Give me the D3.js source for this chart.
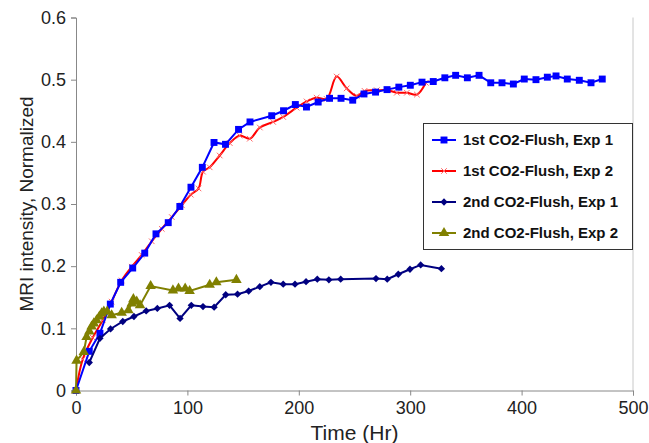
<!DOCTYPE html>
<html lang="en">
<head>
<meta charset="UTF-8">
<title>MRI intensity vs time</title>
<script src="https://cdnjs.cloudflare.com/ajax/libs/d3/7.8.5/d3.min.js"></script>
<style>
  body { margin: 0; background: #fff; }
  svg { display: block; font-family: "Liberation Sans", Arial, sans-serif; }
  .axis path, .axis line { stroke: #888; }
  .axis text { fill: #222; font-size: 18px; }
</style>
</head>
<body>
<div id="chart"></div>
<script>
// 1st CO2-Flush, Exp 1 (blue squares)
const exp1First = [
  [0, 0], [11.9, 0.063], [21.5, 0.092], [30.8, 0.139], [40.1, 0.174], [50.9, 0.197],
  [61.7, 0.221], [71.8, 0.252], [82.8, 0.270], [93.2, 0.296], [103.2, 0.327],
  [113.4, 0.359], [123.9, 0.399], [134.2, 0.396], [145.9, 0.420], [156.2, 0.432],
  [175.7, 0.442], [186.3, 0.450], [196.9, 0.460], [206.9, 0.456], [217.4, 0.464],
  [227.6, 0.470], [237.9, 0.470], [248.4, 0.467], [258.5, 0.477], [268.9, 0.480],
  [279.2, 0.484], [289.8, 0.488], [300.1, 0.491], [310.6, 0.496], [320.7, 0.497],
  [331.1, 0.503], [340.8, 0.507], [351.3, 0.503], [361.8, 0.507], [372.3, 0.495],
  [382.4, 0.495], [392.6, 0.493], [402.4, 0.501], [412.9, 0.500], [423.1, 0.504],
  [430.9, 0.506], [441.0, 0.501], [451.8, 0.499], [462.3, 0.495], [472.4, 0.501]
];

// 1st CO2-Flush, Exp 2 (red crosses, smoothed)
const exp2First = [
  [0, 0], [6, 0.050], [15, 0.085], [24, 0.113], [32, 0.143], [41, 0.177], [50, 0.199],
  [59, 0.218], [68, 0.240], [77, 0.260], [86, 0.279], [95, 0.298], [103, 0.315],
  [110, 0.325], [114, 0.352], [120, 0.359], [129, 0.378], [138, 0.398], [147, 0.410],
  [156, 0.405], [165, 0.423], [177, 0.432], [186, 0.440], [198, 0.455], [207, 0.465],
  [216, 0.471], [225, 0.469], [234, 0.505], [243, 0.486], [252, 0.474], [259, 0.482],
  [270, 0.483], [280, 0.483], [288, 0.479], [297, 0.479], [306, 0.476], [314, 0.495]
];

// 2nd CO2-Flush, Exp 1 (navy diamonds)
const exp1Second = [
  [11.9, 0.045], [21.5, 0.084], [31, 0.099], [42, 0.111], [52, 0.119], [63, 0.128],
  [73, 0.132], [84, 0.137], [93.4, 0.116], [103.5, 0.137], [114, 0.135], [124, 0.134],
  [134.4, 0.154], [145, 0.155], [155, 0.160], [165, 0.167], [175, 0.174], [186, 0.171],
  [196.6, 0.171], [206.5, 0.175], [216.6, 0.179], [227, 0.178], [237.6, 0.179],
  [269.3, 0.180], [279.4, 0.179], [289.3, 0.187], [299.8, 0.195], [309.4, 0.202],
  [328, 0.196]
];

// 2nd CO2-Flush, Exp 2 (olive triangles)
const exp2Second = [
  [0, 0], [0.5, 0.048], [7, 0.062], [9.5, 0.086], [12, 0.095], [14, 0.103], [16, 0.108],
  [18.5, 0.113], [21, 0.119], [23, 0.124], [25, 0.127], [28, 0.127], [32, 0.121],
  [41, 0.125], [47, 0.129], [50, 0.140], [51.5, 0.147], [54.5, 0.143], [57.5, 0.137],
  [67, 0.168], [87, 0.161], [92, 0.164], [98, 0.164], [102, 0.160], [120, 0.170],
  [126, 0.174], [144, 0.178]
];

const xTicks = [0, 100, 200, 300, 400, 500];
const yTicks = [0, 0.1, 0.2, 0.3, 0.4, 0.5, 0.6];
const seriesNames = ["1st CO2-Flush, Exp 1", "1st CO2-Flush, Exp 2", "2nd CO2-Flush, Exp 1", "2nd CO2-Flush, Exp 2"];

const W = 649, H = 443;
const x = d3.scaleLinear().domain([0, 500]).range([76, 633]);
const y = d3.scaleLinear().domain([0, 0.6]).range([390.5, 17.5]);

const svg = d3.select("#chart").append("svg").attr("width", W).attr("height", H);

// right border of plot area
svg.append("line")
  .attr("x1", x(500)).attr("x2", x(500))
  .attr("y1", y(0.6)).attr("y2", y(0))
  .attr("stroke", "#c8c8c8");

svg.append("g").attr("class", "axis")
  .attr("transform", `translate(0,${y(0)})`)
  .call(d3.axisBottom(x).tickValues(xTicks).tickSize(5).tickPadding(6).tickFormat(d3.format("d")));

svg.append("g").attr("class", "axis")
  .attr("transform", `translate(${x(0)},0)`)
  .call(d3.axisLeft(y).tickValues(yTicks).tickSize(5).tickPadding(5).tickFormat(d => d === 0 ? "0" : d3.format(".1f")(d)));

svg.append("text")
  .attr("x", (x(0) + x(500)) / 2).attr("y", 440)
  .attr("text-anchor", "middle").attr("font-size", 21).attr("fill", "#222")
  .text("Time (Hr)");

svg.append("text")
  .attr("transform", `translate(33,${(y(0) + y(0.6)) / 2}) rotate(-90)`)
  .attr("text-anchor", "middle").attr("font-size", 19).attr("fill", "#222")
  .text("MRI intensity, Normalized");

const line = d3.line().x(d => x(d[0])).y(d => y(d[1]));
const smooth = d3.line().x(d => x(d[0])).y(d => y(d[1])).curve(d3.curveCatmullRom.alpha(0.5));

const sym = {
  square: d3.symbol().type(d3.symbolSquare).size(48),
  diamond: d3.symbol().type(d3.symbolDiamond2).size(34),
  triangle: d3.symbol().type(d3.symbolTriangle).size(48),
  cross: d3.symbol().type(d3.symbolX).size(22)
};

const series = [
  { data: exp2First, name: seriesNames[1], color: "#ff0000", marker: "cross", smooth: true, width: 2 },
  { data: exp1First, name: seriesNames[0], color: "#0000ff", marker: "square", smooth: false, width: 2 },
  { data: exp1Second, name: seriesNames[2], color: "#000080", marker: "diamond", smooth: false, width: 2 },
  { data: exp2Second, name: seriesNames[3], color: "#808000", marker: "triangle", smooth: false, width: 2 }
];

function drawMarker(g, s) {
  const p = g.append("path").attr("d", sym[s.marker]());
  if (s.marker === "cross") p.attr("fill", "none").attr("stroke", "#ff6666").attr("stroke-width", 1);
  else p.attr("fill", s.color);
  return p;
}

series.forEach(s => {
  svg.append("path").datum(s.data)
    .attr("fill", "none").attr("stroke", s.color).attr("stroke-width", s.width)
    .attr("d", s.smooth ? smooth : line);
  s.data.forEach(d => {
    const g = svg.append("g").attr("transform", `translate(${x(d[0])},${y(d[1])})`);
    drawMarker(g, s);
  });
});

// legend
const lg = svg.append("g");
lg.append("rect").attr("x", 423.5).attr("y", 123.5).attr("width", 209).attr("height", 126)
  .attr("fill", "#fff").attr("stroke", "#333");
const order = [series[1], series[0], series[2], series[3]];
order.forEach((s, i) => {
  const cy = 140 + i * 31;
  lg.append("line").attr("x1", 432).attr("x2", 456).attr("y1", cy).attr("y2", cy)
    .attr("stroke", s.color).attr("stroke-width", 2);
  drawMarker(lg.append("g").attr("transform", `translate(444,${cy})`), s);
  lg.append("text").attr("x", 463).attr("y", cy + 5)
    .attr("font-size", 15).attr("font-weight", "bold").attr("fill", "#111")
    .text(s.name);
});
</script>
</body>
</html>
